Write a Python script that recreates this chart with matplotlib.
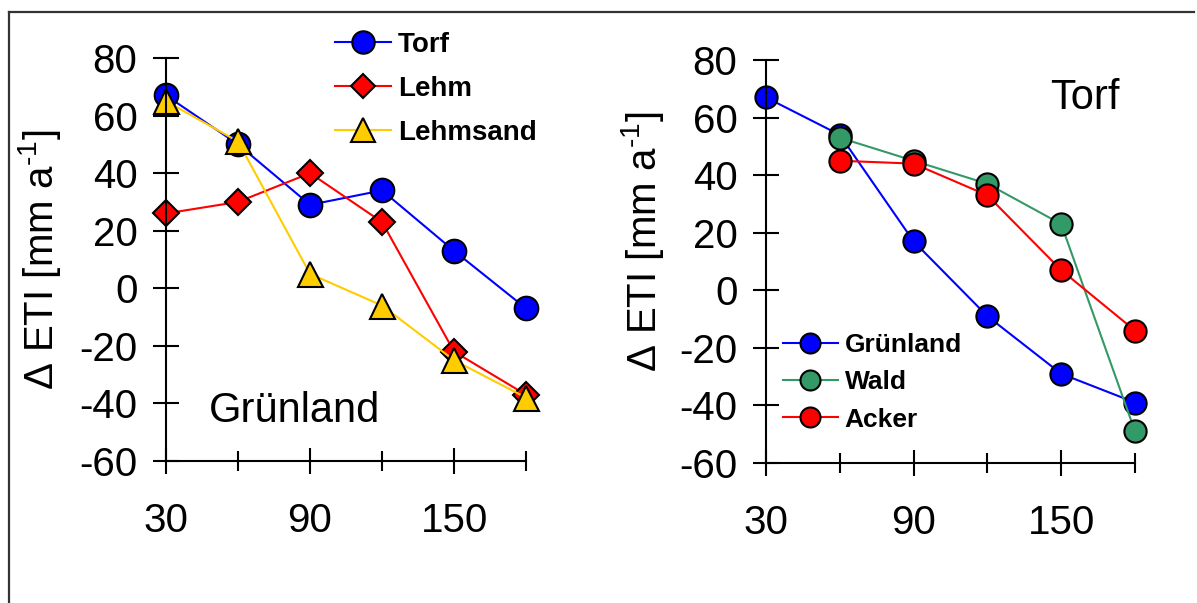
import matplotlib
matplotlib.use("Agg")
import matplotlib.pyplot as plt
from matplotlib.lines import Line2D

plt.rcParams['font.family'] = ['Liberation Sans', 'DejaVu Sans']
plt.rcParams['mathtext.fontset'] = 'custom'
plt.rcParams['mathtext.rm'] = 'Liberation Sans'
plt.rcParams['mathtext.default'] = 'regular'
plt.rcParams['axes.unicode_minus'] = False

# --------------------------
# Data
# --------------------------
tage = [30, 60, 90, 120, 150, 180]

# left panel: Grünland on different soils
torf = [67, 50, 29, 34, 13, -7]
lehm = [26, 30, 40, 23, -22, -37]
lehmsand = [65, 51, 5, -6, -25, -38]

# right panel: Torf under different land use
tage_wald = [60, 90, 120, 150, 180]
gruenland = [67, 54, 17, -9, -29, -39]
wald = [53, 45, 37, 23, -49]
acker = [45, 44, 33, 7, -14]

yticks = [-60, -40, -20, 0, 20, 40, 60, 80]
xticks_major = [30, 90, 150]
xticks_minor = [60, 120, 180]

BLUE = '#0000FF'
RED = '#FF0000'
GOLD = '#FFCC00'
GREEN = '#339966'

TICK_FS = 29


def style_axes(ax):
    ax.set_xlim(30, 180)
    ax.set_ylim(-60, 80)
    for side in ('top', 'right'):
        ax.spines[side].set_visible(False)
    for side in ('left', 'bottom'):
        ax.spines[side].set_linewidth(1.5)
    ax.set_xticks(xticks_major)
    ax.set_xticks(xticks_minor, minor=True)
    ax.set_yticks(yticks)
    ax.tick_params(axis='x', which='major', direction='inout', length=19,
                   width=1.5, pad=20, labelsize=TICK_FS)
    ax.tick_params(axis='x', which='minor', direction='inout', length=14,
                   width=1.5)
    ax.tick_params(axis='y', direction='inout', length=19, width=1.5,
                   pad=11, labelsize=TICK_FS)
    # hyphen (U+2010) in the exponent instead of a minus sign
    ax.set_ylabel('Δ ETI [mm a$^{\u20101}$]', fontsize=TICK_FS)


fig = plt.figure(figsize=(11.97, 6.03), dpi=100)
ax1 = fig.add_axes([0.1387, 0.2355, 0.3008, 0.6683])
ax2 = fig.add_axes([0.6399, 0.2322, 0.3083, 0.6683])

# --------------------------
# Left: Grünland
# --------------------------
kw = dict(lw=1.5, mec='black', mew=1.5, clip_on=False)
ax1.plot(tage, torf, 'o-', color=BLUE, ms=17, label='Torf', **kw)
ax1.plot(tage, lehm, 'D-', color=RED, ms=13, label='Lehm', **kw)
ax1.plot(tage, lehmsand, '^-', color=GOLD, ms=18, label='Lehmsand', **kw)
style_axes(ax1)
ax1.yaxis.set_label_coords(-0.285, 0.5)
ax1.text(0.12, 0.125, 'Grünland', transform=ax1.transAxes, fontsize=30,
         ha='left', va='center')
ax1.legend(loc='center left', bbox_to_anchor=(0.47, 0.923), frameon=False,
           prop={'weight': 'bold', 'size': 20}, markerscale=0.95,
           handlelength=2.0, handletextpad=0.25, labelspacing=0.65,
           borderpad=0, borderaxespad=0)

# --------------------------
# Right: Torf
# --------------------------
ax2.plot(tage, gruenland, 'o-', color=BLUE, ms=16, label='Grünland', **kw)
ax2.plot(tage_wald, wald, 'o-', color=GREEN, ms=16, label='Wald', **kw)
ax2.plot(tage_wald, acker, 'o-', color=RED, ms=16, label='Acker', **kw)
style_axes(ax2)
ax2.yaxis.set_label_coords(-0.27, 0.55)
ax2.text(0.77, 0.905, 'Torf', transform=ax2.transAxes, fontsize=30,
         ha='left', va='center')
ax2.legend(loc='center left', bbox_to_anchor=(0.045, 0.2), frameon=False,
           prop={'weight': 'bold', 'size': 19}, markerscale=0.9,
           handlelength=2.1, handletextpad=0.25, labelspacing=0.5,
           borderpad=0, borderaxespad=0)

# outer frame (top and left edge only)
fig.add_artist(Line2D([0.0075, 0.9975], [0.980, 0.980], transform=fig.transFigure,
                      color='#333333', lw=1.6))
fig.add_artist(Line2D([0.0075, 0.0075], [0.0, 0.980], transform=fig.transFigure,
                      color='#333333', lw=1.6))

fig.savefig('out.png', dpi=100)
